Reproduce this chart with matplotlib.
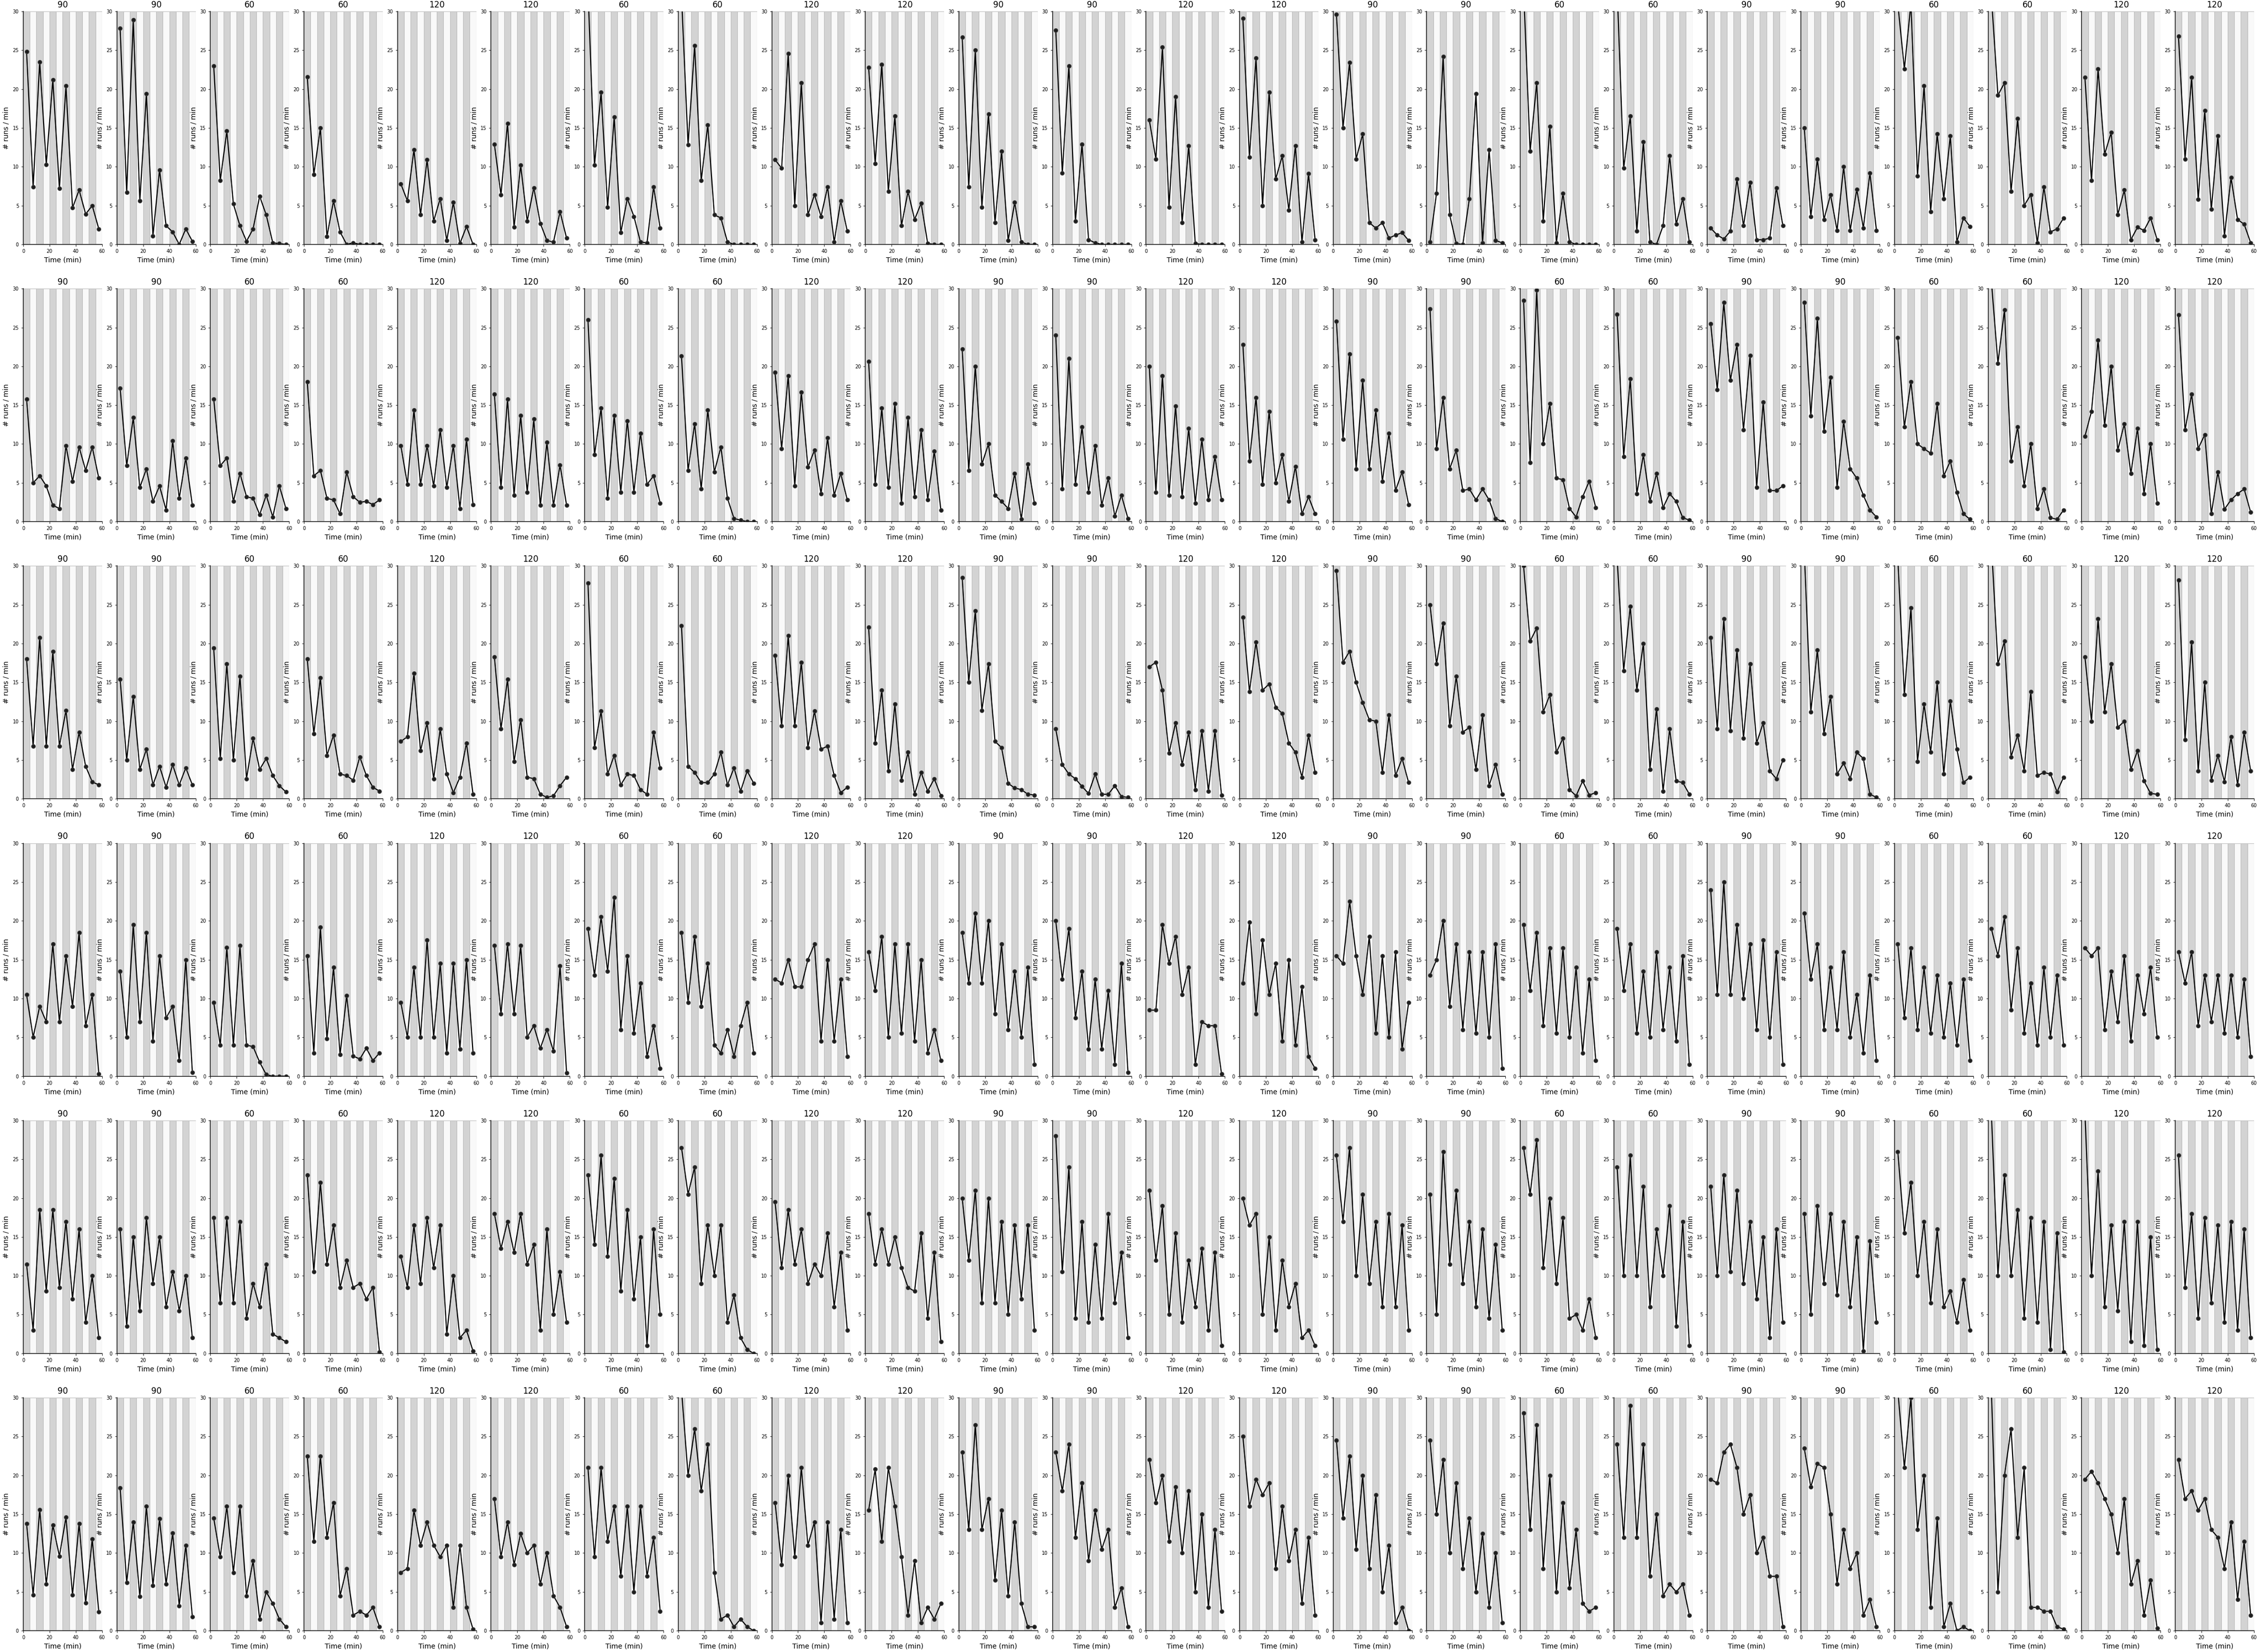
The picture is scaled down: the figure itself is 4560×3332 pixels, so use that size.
"""Grid of runs-per-minute traces, one small panel per session."""
import matplotlib
matplotlib.use("Agg")
from matplotlib import pyplot as plt

TIME = [2.5, 7.5, 12.5, 17.5, 22.5, 27.5, 32.5, 37.5, 42.5, 47.5, 52.5, 57.5]
STRIPE_EDGES = [0, 5, 10, 15, 20, 25, 30, 35, 40, 45, 50, 55, 60]
TITLES = [90, 90, 60, 60, 120, 120, 60, 60, 120, 120, 90, 90,
          120, 120, 90, 90, 60, 60, 90, 90, 60, 60, 120, 120]

ROW_1 = [
    [24.8, 7.4, 23.5, 10.3, 21.2, 7.2, 20.4, 4.7, 7.0, 3.9, 5.0, 2.0],
    [27.8, 6.7, 28.9, 5.6, 19.4, 1.1, 9.6, 2.4, 1.6, 0.0, 2.0, 0.4],
    [23.0, 8.2, 14.6, 5.2, 2.4, 0.4, 2.0, 6.2, 3.8, 0.2, 0.1, 0.0],
    [21.6, 9.0, 15.0, 1.0, 5.6, 1.6, 0.0, 0.2, 0.0, 0.0, 0.0, 0.0],
    [7.8, 5.6, 12.2, 3.8, 10.9, 3.0, 5.9, 0.5, 5.4, 0.1, 2.3, 0.0],
    [12.9, 6.4, 15.6, 2.2, 10.2, 3.0, 7.3, 2.7, 0.5, 0.3, 4.2, 0.8],
    [33.0, 10.2, 19.6, 4.8, 16.4, 1.5, 5.9, 3.6, 0.3, 0.2, 7.4, 2.1],
    [32.0, 12.8, 25.6, 8.2, 15.4, 3.8, 3.4, 0.3, 0.0, 0.0, 0.0, 0.0],
    [10.9, 9.8, 24.6, 5.0, 20.8, 3.8, 6.4, 3.6, 7.4, 0.3, 5.6, 1.7],
    [22.8, 10.4, 23.2, 6.8, 16.5, 2.4, 6.8, 3.2, 5.3, 0.1, 0.0, 0.0],
    [26.7, 7.4, 25.0, 4.8, 16.8, 2.8, 12.0, 0.5, 5.4, 0.3, 0.0, 0.0],
    [27.6, 9.2, 23.0, 3.0, 12.9, 0.6, 0.2, 0.0, 0.0, 0.0, 0.0, 0.0],
    [16.0, 11.0, 25.4, 4.8, 19.0, 2.8, 12.7, 0.1, 0.0, 0.0, 0.0, 0.0],
    [29.1, 11.2, 24.0, 5.0, 19.6, 8.4, 11.4, 4.4, 12.7, 0.3, 9.1, 0.6],
    [29.6, 15.0, 23.4, 11.0, 14.2, 2.8, 2.1, 2.8, 0.8, 1.2, 1.5, 0.5],
    [0.3, 6.6, 24.2, 3.8, 0.1, 0.0, 5.9, 19.4, 0.2, 12.2, 0.5, 0.2],
    [33.0, 12.0, 20.8, 3.0, 15.2, 0.2, 6.6, 0.3, 0.0, 0.0, 0.0, 0.0],
    [33.0, 9.8, 16.5, 1.7, 13.2, 0.3, 0.0, 2.4, 11.4, 2.6, 5.9, 0.3],
    [2.1, 1.2, 0.7, 1.7, 8.4, 2.4, 8.0, 0.6, 0.6, 0.8, 7.3, 2.4],
    [15.0, 3.6, 11.0, 3.2, 6.4, 1.8, 10.0, 1.8, 7.1, 2.1, 9.2, 1.8],
    [31.0, 22.6, 31.0, 8.8, 20.4, 4.2, 14.2, 5.9, 14.0, 0.3, 3.4, 2.3],
    [32.0, 19.2, 20.8, 6.8, 16.2, 5.0, 6.4, 0.2, 7.4, 1.6, 2.0, 3.4],
    [21.5, 8.2, 22.6, 11.6, 14.4, 3.8, 7.0, 0.6, 2.2, 1.8, 3.4, 0.6],
    [26.8, 11.0, 21.5, 5.8, 17.2, 4.5, 14.0, 1.1, 8.6, 3.2, 2.6, 0.2],
]

ROW_2 = [
    [15.8, 5.0, 5.9, 4.6, 2.1, 1.7, 9.8, 5.2, 9.6, 6.6, 9.6, 5.6],
    [17.2, 7.2, 13.4, 4.4, 6.8, 2.6, 4.6, 1.5, 10.4, 3.0, 8.2, 2.1],
    [15.8, 7.2, 8.2, 2.6, 6.2, 3.2, 3.0, 0.9, 3.4, 0.6, 4.6, 1.7],
    [18.0, 5.9, 6.6, 3.0, 2.8, 1.0, 6.4, 3.2, 2.5, 2.6, 2.2, 2.8],
    [9.8, 4.8, 14.4, 4.8, 9.8, 4.6, 11.8, 4.4, 9.8, 1.7, 10.6, 2.2],
    [16.4, 4.4, 15.8, 3.4, 13.7, 3.8, 13.2, 2.1, 10.2, 2.1, 7.3, 2.1],
    [26.0, 8.6, 14.6, 3.0, 13.7, 3.8, 13.0, 3.8, 11.4, 4.8, 5.9, 2.4],
    [21.3, 6.6, 12.6, 4.2, 14.4, 6.4, 9.6, 3.0, 0.4, 0.2, 0.0, 0.0],
    [19.2, 9.4, 18.8, 4.6, 16.7, 7.0, 9.2, 3.6, 10.8, 3.4, 6.2, 2.8],
    [20.6, 4.8, 14.6, 4.4, 15.2, 2.4, 13.4, 3.2, 11.8, 2.8, 9.1, 1.5],
    [22.2, 6.6, 20.0, 7.4, 10.0, 3.4, 2.6, 1.7, 6.2, 0.3, 7.4, 2.4],
    [24.0, 4.2, 21.0, 4.8, 12.2, 3.8, 9.8, 2.1, 5.6, 0.7, 3.4, 0.4],
    [20.0, 3.8, 18.8, 3.4, 14.9, 3.2, 12.0, 2.4, 10.6, 2.8, 8.4, 2.8],
    [22.8, 7.8, 16.0, 4.8, 14.2, 5.0, 8.6, 2.6, 7.1, 1.0, 3.2, 1.0],
    [25.8, 10.6, 21.6, 6.8, 18.2, 6.8, 14.4, 5.2, 11.4, 4.0, 6.4, 2.2],
    [27.4, 9.4, 16.0, 6.8, 9.2, 4.0, 4.2, 2.8, 4.2, 2.8, 0.4, 0.0],
    [28.5, 7.6, 29.8, 10.0, 15.2, 5.6, 5.4, 1.7, 0.6, 3.2, 5.2, 1.8],
    [26.7, 8.4, 18.4, 3.6, 8.6, 2.6, 6.2, 1.8, 3.6, 2.6, 0.5, 0.2],
    [25.5, 17.0, 28.2, 18.2, 22.8, 11.8, 21.4, 4.4, 15.4, 4.0, 4.0, 4.6],
    [28.2, 13.6, 26.2, 11.6, 18.6, 4.4, 12.9, 6.8, 5.6, 3.4, 1.5, 0.6],
    [23.7, 12.2, 18.0, 10.0, 9.4, 8.8, 15.2, 5.9, 7.8, 3.8, 1.0, 0.3],
    [31.0, 20.4, 27.3, 7.8, 12.2, 4.6, 10.0, 1.7, 4.2, 0.5, 0.3, 1.5],
    [11.0, 14.2, 23.4, 12.4, 20.0, 9.2, 12.6, 6.2, 12.0, 3.6, 10.0, 2.4],
    [26.6, 11.8, 16.4, 9.4, 11.2, 1.0, 6.4, 1.6, 2.8, 3.6, 4.2, 1.2],
]

ROW_3 = [
    [18.0, 6.8, 20.8, 6.8, 19.0, 6.8, 11.4, 3.8, 8.6, 4.2, 2.2, 1.8],
    [15.4, 5.0, 13.2, 3.8, 6.4, 1.8, 4.2, 1.5, 4.4, 1.8, 4.0, 1.8],
    [19.4, 5.2, 17.4, 5.0, 15.8, 2.6, 7.8, 3.8, 5.2, 3.0, 1.7, 0.9],
    [18.0, 8.4, 15.6, 5.6, 8.2, 3.2, 3.0, 2.4, 5.4, 3.0, 1.5, 1.0],
    [7.4, 8.0, 16.2, 6.2, 9.8, 2.6, 9.0, 3.2, 0.8, 2.8, 7.2, 0.6],
    [18.3, 9.0, 15.4, 4.8, 10.2, 2.8, 2.6, 0.6, 0.2, 0.4, 1.7, 2.8],
    [27.8, 6.6, 11.3, 3.2, 5.6, 1.8, 3.2, 3.0, 1.2, 0.6, 8.6, 4.0],
    [22.3, 4.2, 3.4, 2.1, 2.1, 3.2, 6.0, 1.8, 4.0, 1.0, 3.6, 2.0],
    [18.5, 9.4, 21.0, 9.4, 17.6, 6.6, 11.3, 6.4, 6.8, 3.0, 0.8, 1.5],
    [22.1, 7.2, 14.0, 3.6, 12.2, 2.4, 6.0, 0.6, 3.4, 1.0, 2.6, 0.4],
    [28.5, 15.0, 24.2, 11.4, 17.4, 7.4, 6.6, 2.0, 1.4, 1.2, 0.6, 0.5],
    [9.0, 4.4, 3.2, 2.6, 1.6, 0.7, 3.2, 0.6, 0.6, 1.7, 0.3, 0.2],
    [17.0, 17.6, 14.0, 5.9, 9.8, 4.4, 8.6, 1.2, 8.8, 1.0, 8.8, 0.5],
    [23.4, 13.8, 20.2, 14.0, 14.8, 11.8, 11.0, 7.2, 6.0, 2.8, 8.2, 3.4],
    [29.4, 17.6, 19.0, 15.0, 12.4, 10.2, 10.0, 3.4, 10.8, 3.0, 5.2, 2.1],
    [25.0, 17.4, 22.6, 9.4, 15.8, 8.6, 9.2, 3.8, 10.8, 1.7, 4.4, 0.6],
    [30.0, 20.3, 22.0, 11.2, 13.4, 6.0, 7.8, 1.2, 0.4, 2.3, 0.5, 0.8],
    [31.0, 16.5, 24.8, 14.0, 20.0, 3.8, 11.6, 1.0, 9.0, 2.3, 2.1, 0.6],
    [20.8, 9.0, 23.2, 8.8, 19.2, 7.8, 17.4, 7.2, 9.8, 3.6, 2.6, 5.0],
    [32.0, 11.2, 19.2, 8.4, 13.2, 3.2, 4.6, 2.6, 6.0, 5.2, 0.6, 0.2],
    [31.0, 13.4, 24.6, 4.8, 12.2, 6.0, 15.0, 3.2, 12.6, 6.4, 2.1, 2.8],
    [33.0, 17.4, 20.3, 5.4, 8.2, 3.6, 13.8, 3.0, 3.4, 3.2, 0.9, 2.8],
    [18.3, 10.0, 23.2, 11.2, 17.4, 9.2, 10.0, 3.8, 6.2, 2.3, 0.7, 0.6],
    [28.2, 7.6, 20.2, 3.6, 15.0, 2.4, 5.6, 2.2, 8.0, 1.8, 8.6, 3.6],
]

ROW_4 = [
    [10.5, 5.0, 9.0, 7.0, 17.0, 7.0, 15.5, 9.0, 18.5, 6.5, 10.5, 0.3],
    [13.5, 5.0, 19.5, 7.0, 18.5, 4.5, 15.5, 7.5, 9.0, 2.0, 15.0, 0.5],
    [9.5, 4.0, 16.6, 4.0, 16.8, 4.0, 3.8, 1.8, 0.2, 0.0, 0.0, 0.0],
    [15.5, 3.0, 19.2, 4.8, 14.0, 2.8, 10.4, 2.6, 2.2, 3.6, 2.0, 3.0],
    [9.5, 5.0, 14.0, 5.0, 17.5, 5.0, 14.5, 3.0, 14.5, 3.5, 15.0, 3.0],
    [16.8, 8.0, 17.0, 8.0, 16.8, 5.0, 6.5, 3.6, 6.0, 3.2, 14.2, 0.4],
    [19.0, 13.0, 20.5, 13.5, 23.0, 6.0, 15.5, 5.5, 12.0, 2.5, 6.5, 1.0],
    [18.5, 9.5, 18.0, 9.0, 14.5, 4.0, 3.0, 6.0, 2.5, 6.5, 9.5, 3.0],
    [12.5, 12.0, 15.0, 11.5, 11.5, 15.0, 17.0, 4.5, 15.0, 4.5, 12.5, 2.5],
    [16.0, 11.0, 18.0, 5.0, 17.0, 5.5, 17.0, 4.5, 15.0, 3.0, 6.0, 2.0],
    [18.5, 12.0, 21.0, 12.0, 20.0, 8.0, 17.0, 6.0, 13.5, 5.0, 14.0, 1.5],
    [20.0, 12.5, 19.0, 7.5, 13.5, 3.5, 12.5, 3.5, 11.0, 1.5, 14.5, 0.5],
    [8.5, 8.5, 19.5, 14.5, 18.0, 10.5, 14.0, 1.5, 7.0, 6.5, 6.5, 0.3],
    [12.0, 19.8, 8.0, 17.5, 10.5, 14.5, 4.5, 15.0, 4.0, 11.5, 2.5, 1.0],
    [15.5, 14.5, 22.5, 15.5, 10.5, 18.0, 5.5, 15.5, 5.0, 16.0, 3.5, 9.5],
    [13.0, 15.0, 20.0, 9.0, 17.0, 6.0, 16.0, 5.5, 16.0, 5.0, 17.0, 1.0],
    [19.5, 11.0, 18.5, 6.5, 16.5, 5.5, 16.5, 5.0, 14.0, 3.0, 12.5, 2.0],
    [19.0, 11.0, 17.0, 5.5, 13.5, 5.0, 16.0, 6.0, 14.0, 4.5, 15.5, 1.5],
    [24.0, 10.5, 25.0, 10.5, 19.5, 10.0, 17.0, 6.0, 17.5, 5.0, 16.0, 1.5],
    [21.0, 12.5, 17.0, 6.0, 14.0, 6.0, 16.0, 5.0, 10.5, 3.0, 13.0, 2.0],
    [17.0, 7.5, 16.5, 6.0, 14.0, 5.5, 13.0, 5.0, 12.0, 4.0, 12.5, 2.0],
    [19.0, 15.5, 20.5, 8.5, 16.5, 5.5, 12.0, 4.0, 14.0, 5.0, 13.0, 4.0],
    [16.5, 15.5, 16.5, 6.0, 13.5, 7.0, 15.5, 4.5, 13.0, 8.0, 14.0, 5.0],
    [16.0, 12.0, 16.0, 6.5, 13.0, 7.0, 13.0, 5.5, 13.0, 5.0, 12.5, 2.5],
]

ROW_5 = [
    [11.5, 3.0, 18.5, 8.0, 18.5, 8.5, 17.0, 7.0, 16.0, 4.0, 10.0, 2.0],
    [16.0, 3.5, 15.0, 5.5, 17.5, 9.0, 15.0, 6.0, 10.5, 5.5, 10.0, 2.0],
    [17.5, 6.5, 17.5, 6.5, 17.0, 4.5, 9.0, 6.0, 11.5, 2.5, 2.0, 1.5],
    [23.0, 10.5, 22.0, 11.5, 16.5, 8.5, 12.0, 8.5, 9.0, 7.0, 8.5, 0.2],
    [12.5, 8.5, 16.5, 9.0, 17.5, 11.0, 16.5, 2.5, 10.0, 2.0, 3.0, 0.3],
    [18.0, 13.5, 17.0, 13.0, 18.0, 11.5, 14.0, 3.0, 16.0, 5.0, 10.5, 4.0],
    [23.0, 14.0, 25.5, 12.5, 22.5, 8.0, 18.5, 7.0, 15.0, 1.0, 16.0, 5.0],
    [26.5, 20.5, 24.0, 9.0, 16.5, 10.0, 16.5, 4.0, 7.5, 2.0, 0.5, 0.0],
    [19.5, 11.0, 18.5, 11.5, 16.0, 9.0, 11.5, 10.0, 15.5, 6.0, 13.0, 3.0],
    [18.0, 11.5, 16.0, 11.5, 15.0, 11.0, 8.5, 8.0, 15.5, 4.5, 13.0, 1.5],
    [20.0, 12.0, 21.0, 6.5, 20.0, 6.5, 17.0, 5.0, 16.5, 7.0, 16.5, 3.0],
    [28.0, 10.5, 24.0, 4.5, 17.0, 4.0, 14.0, 4.5, 18.0, 6.5, 13.0, 2.0],
    [21.0, 12.0, 19.0, 5.0, 15.5, 4.0, 12.0, 6.0, 13.5, 3.0, 13.0, 1.0],
    [20.0, 16.5, 18.0, 5.0, 15.0, 3.0, 12.0, 6.0, 9.0, 2.0, 3.0, 1.0],
    [25.5, 17.0, 26.5, 10.0, 20.5, 9.0, 17.0, 6.0, 18.0, 6.0, 16.5, 3.0],
    [20.5, 5.0, 26.0, 11.5, 21.0, 9.0, 17.0, 6.0, 16.0, 4.5, 14.0, 3.0],
    [26.5, 20.5, 27.5, 11.0, 20.0, 9.0, 17.5, 4.5, 5.0, 3.0, 7.0, 2.0],
    [24.0, 10.0, 25.5, 10.0, 21.5, 6.0, 16.0, 10.0, 19.0, 3.5, 17.0, 1.0],
    [21.5, 10.0, 23.0, 10.5, 21.0, 9.0, 17.0, 7.0, 15.0, 2.0, 16.0, 4.0],
    [18.0, 5.0, 19.0, 9.0, 18.0, 7.5, 17.0, 6.0, 15.0, 0.3, 14.5, 4.0],
    [26.0, 15.5, 22.0, 10.0, 17.0, 6.5, 16.0, 6.0, 8.0, 4.0, 9.5, 3.0],
    [31.0, 10.0, 23.0, 10.0, 18.5, 4.5, 17.5, 4.0, 17.0, 0.5, 15.5, 0.2],
    [31.0, 10.0, 23.5, 6.0, 16.5, 5.5, 17.0, 1.5, 17.0, 1.0, 15.0, 0.5],
    [25.5, 8.5, 18.0, 4.5, 17.5, 6.5, 16.5, 4.0, 17.0, 3.0, 16.0, 2.0],
]

ROW_6 = [
    [13.8, 4.6, 15.6, 6.0, 13.6, 9.6, 14.6, 4.6, 13.8, 3.6, 11.8, 2.4],
    [18.4, 6.2, 14.0, 4.4, 16.0, 5.8, 14.4, 6.0, 12.6, 3.2, 11.0, 1.8],
    [14.5, 9.5, 16.0, 7.5, 16.0, 4.5, 9.0, 1.5, 5.0, 3.5, 1.5, 0.5],
    [22.5, 11.5, 22.5, 12.0, 16.5, 4.5, 8.0, 2.0, 2.5, 2.0, 3.0, 0.5],
    [7.5, 8.0, 15.5, 11.0, 14.0, 11.0, 9.5, 11.0, 3.0, 11.0, 3.0, 0.2],
    [17.0, 9.5, 14.0, 8.5, 12.5, 10.0, 11.0, 6.0, 10.0, 4.5, 3.0, 0.5],
    [21.0, 9.5, 21.0, 11.5, 16.0, 7.0, 16.0, 5.0, 16.0, 7.0, 12.0, 2.5],
    [31.0, 20.0, 26.0, 18.0, 24.0, 7.5, 1.5, 2.0, 0.5, 1.5, 0.5, 0.0],
    [16.5, 8.5, 20.0, 9.5, 21.0, 11.0, 14.0, 1.0, 14.0, 1.5, 13.0, 1.0],
    [15.5, 20.8, 11.5, 21.0, 16.0, 9.5, 2.0, 9.0, 1.0, 3.0, 1.5, 3.5],
    [23.0, 13.0, 26.5, 13.0, 17.0, 6.5, 15.5, 4.5, 14.0, 3.5, 0.5, 0.5],
    [23.0, 18.0, 24.0, 12.0, 19.0, 9.0, 15.5, 10.5, 13.0, 3.0, 5.5, 0.5],
    [22.0, 16.5, 20.0, 11.5, 18.5, 10.0, 18.0, 5.0, 15.0, 3.0, 13.0, 2.5],
    [25.0, 16.0, 19.5, 17.5, 19.0, 8.0, 16.0, 9.0, 13.0, 3.5, 12.0, 2.0],
    [24.5, 14.5, 22.5, 10.5, 20.0, 8.0, 17.5, 5.0, 11.0, 1.0, 3.0, 0.0],
    [24.5, 15.0, 22.0, 10.0, 19.0, 8.0, 14.5, 5.0, 12.5, 3.0, 10.0, 1.0],
    [28.0, 13.0, 26.5, 8.0, 20.0, 5.0, 16.5, 5.5, 13.0, 3.5, 2.5, 3.0],
    [24.0, 12.0, 29.0, 12.0, 24.0, 7.0, 15.0, 4.5, 6.0, 5.0, 6.0, 2.0],
    [19.5, 19.0, 23.0, 24.0, 21.0, 15.0, 17.5, 10.0, 12.0, 7.0, 7.0, 0.5],
    [23.5, 18.5, 21.5, 21.0, 15.0, 6.0, 13.0, 8.0, 10.0, 2.0, 4.0, 0.5],
    [31.0, 21.0, 30.0, 13.0, 20.0, 3.0, 14.5, 0.5, 3.5, 0.0, 0.5, 0.0],
    [31.0, 5.0, 20.0, 26.0, 12.0, 21.0, 3.0, 3.0, 2.5, 2.5, 0.5, 0.2],
    [19.5, 20.5, 19.0, 17.0, 15.0, 10.0, 17.0, 6.0, 9.0, 2.0, 6.5, 0.3],
    [22.0, 17.0, 18.0, 15.5, 17.0, 13.0, 12.0, 8.0, 14.0, 4.0, 11.5, 2.0],
]

ROWS = [ROW_1, ROW_2, ROW_3, ROW_4, ROW_5, ROW_6]

fig, axes = plt.subplots(6, 24, figsize=(45.6, 33.32), dpi=100)
fig.subplots_adjust(left=0.0103, right=0.9969, top=0.9931, bottom=0.0129,
                    wspace=0.1875, hspace=0.19)

for r, row in enumerate(ROWS):
    for c, ax in enumerate(axes[r]):
        # alternating 5-minute blocks
        for i in range(len(STRIPE_EDGES) - 1):
            shade = '#d3d3d3' if i % 2 == 0 else '#f9f9f9'
            ax.axvspan(STRIPE_EDGES[i], STRIPE_EDGES[i + 1], facecolor=shade,
                       edgecolor='#bdbdbd', linewidth=0.8, zorder=0)
        ax.plot(TIME, row[c], color='black', linewidth=1.6, marker='o',
                markersize=5.5, markerfacecolor='#1c1c1c',
                markeredgecolor='#3a3a3a', zorder=3)
        ax.set_xlim(0, 60)
        ax.set_ylim(0, 30)
        ax.set_xticks([0, 20, 40, 60])
        ax.set_yticks([0, 5, 10, 15, 20, 25, 30])
        ax.tick_params(labelsize=7, length=3, width=0.8, color='#262626')
        for side in ('top', 'right'):
            ax.spines[side].set_visible(False)
        for side in ('left', 'bottom'):
            ax.spines[side].set_linewidth(1.2)
            ax.spines[side].set_color('#262626')
        ax.set_title(str(TITLES[c]), fontsize=12)
        ax.set_xlabel('Time (min)', fontsize=10)
        ax.set_ylabel('# runs / min', fontsize=10)

fig.savefig('out.png', dpi=100)
